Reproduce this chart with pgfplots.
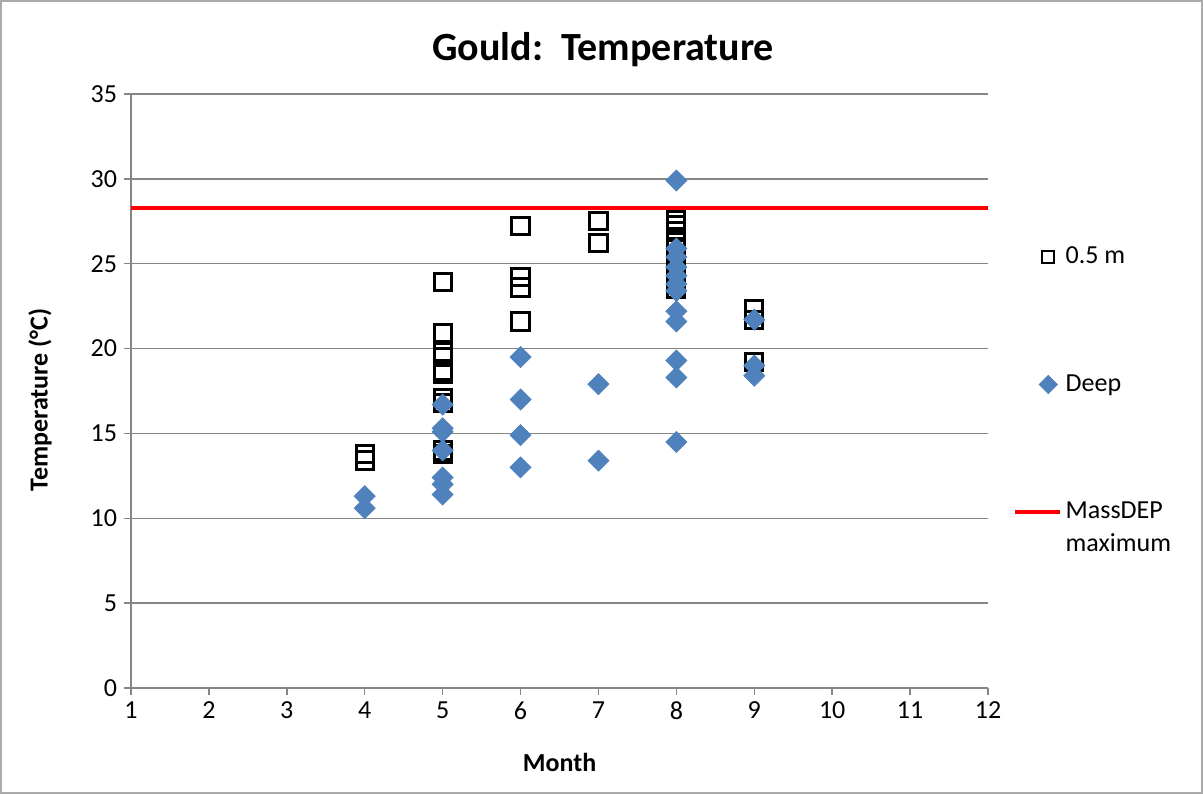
\documentclass[border=0pt]{standalone}
\usepackage{pgfplots}
\pgfplotsset{compat=1.18}
\usepackage{fontspec}
\setmainfont{Carlito}
\definecolor{deepblue}{HTML}{4F81BD}
\definecolor{axisgray}{HTML}{868686}
\begin{document}
\begin{tikzpicture}
\begin{axis}[
  scale only axis,
  width=428.5pt, height=297pt,
  xmin=1, xmax=12, ymin=0, ymax=35,
  xtick={1,...,12}, ytick={0,5,...,35},
  axis lines=left,
  axis line style={-, draw=axisgray, line width=0.75pt},
  tick style={draw=axisgray, line width=0.75pt},
  tick align=outside, major tick length=3.5pt,
  ymajorgrids, grid style={draw=axisgray, line width=0.75pt},
  /pgf/number format/assume math mode=true,
  ticklabel style={font=\fontsize{13}{15}\selectfont},
  title={Gould:\ \ Temperature},
  title style={font=\fontsize{20}{24}\selectfont\bfseries, at={(0.551,1)}, anchor=center, yshift=16pt},
  xlabel={Month},
  ylabel={Temperature (°C)},
  xlabel style={font=\fontsize{13}{15}\selectfont\bfseries, at={(axis description cs:0.5,-0.1246)}, anchor=center},
  ylabel style={font=\fontsize{13}{15}\selectfont\bfseries, at={(axis description cs:-0.1062,0.485)}, anchor=center},
  legend style={draw=none, at={(1.022,0.757)}, anchor=north west,
    font=\fontsize{13}{16.5}\selectfont, row sep=50pt,
    cells={anchor=west, align=left}},
  legend cell align=left,
]
\addplot[only marks, mark=square, mark size=4.3pt, mark options={draw=black, line width=1.5pt},
  legend image post style={mark size=3pt, mark options={line width=1pt}}]
  coordinates {
  (4,13.8) (4,13.4)
  (5,23.9) (5,20.9) (5,19.8) (5,19.5) (5,18.7) (5,18.5) (5,17.1) (5,16.8) (5,14.0) (5,13.8)
  (6,27.2) (6,24.2) (6,23.6) (6,21.6)
  (7,27.5) (7,26.2)
  (8,27.6) (8,27.3) (8,26.9) (8,26.4) (8,26.0) (8,25.5) (8,25.0) (8,24.6) (8,24.2) (8,23.8) (8,23.5)
  (9,22.3) (9,21.7) (9,19.2)
};
\addlegendentry{0.5 m}
\addplot[only marks, mark=square*, mark size=3.7pt, mark options={rotate=45, draw=deepblue, fill=deepblue},
  legend image post style={mark size=3.2pt}]
  coordinates {
  (4,11.3) (4,10.6)
  (5,16.7) (5,15.3) (5,15.1) (5,14.0) (5,12.4) (5,12.0) (5,11.4)
  (6,19.5) (6,17.0) (6,14.9) (6,13.0)
  (7,17.9) (7,13.4)
  (8,29.9) (8,25.9) (8,25.4) (8,24.8) (8,24.3) (8,23.8) (8,23.4) (8,22.2) (8,21.6) (8,19.3) (8,18.3) (8,14.5)
  (9,21.7) (9,19.0) (9,18.4)
};
\addlegendentry{Deep}
\addplot[red, line width=2pt, no marks,
  legend image code/.code={
    \path[draw=none] (0cm,-8.25pt) -- (0cm,8.25pt);
    \draw[red, line width=2pt] (-0.28cm,8.25pt) -- (0.5cm,8.25pt);}]
  coordinates {(1,28.3) (12,28.3)};
\addlegendentry{MassDEP\\maximum}
\end{axis}
\draw[draw=axisgray!70, line width=0.6pt] (-65pt,-52.5pt) rectangle (535.5pt,343.5pt);
\path[use as bounding box] (-65.5pt,-53pt) rectangle (536pt,344pt);
\end{tikzpicture}
\end{document}
